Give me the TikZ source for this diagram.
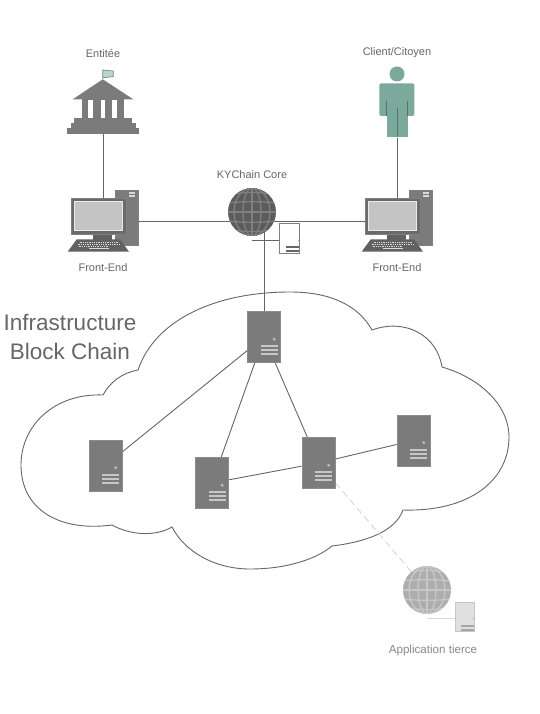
\documentclass[tikz,border=0pt]{standalone}
\usepackage{fontspec}
\setmainfont{Liberation Sans}
\usetikzlibrary{positioning}
\usetikzlibrary{backgrounds}

\definecolor{iconcol}{HTML}{7B7B7B}
\definecolor{edgecol}{HTML}{666666}
\definecolor{labelcol}{HTML}{666666}
\definecolor{tealcol}{HTML}{7BA99C}
\definecolor{paletxt}{HTML}{888888}

% dot and three bars of a server front
\newcommand{\srvmarks}[3]{
  \begin{scope}[shift={(path picture bounding box.center)},scale=#1]
    \fill[#2] (-3.5,8) rectangle (13.5,10);
    \fill[#2] (-3.5,12.1) rectangle (13.5,14.1);
    \fill[#2] (-3.5,16.2) rectangle (13.5,18.2);
    \fill[#3] (10.2,2.2) circle (1.7);
  \end{scope}
}

% meridians and parallels of a globe
\newcommand{\globelines}[1]{
  \begin{scope}[shift={(path picture bounding box.center)},draw=#1,line width=1.3pt]
    \draw (0,-24) -- (0,24);
    \draw (0,0) ellipse (9 and 24);
    \draw (0,0) ellipse (18 and 24);
    \draw (-24,0) -- (24,0);
    \foreach \yy in {-17,-9,9,17} {
      \draw (-24,\yy) .. controls (-8,\yy*1.2) and (8,\yy*1.2) .. (24,\yy);
    }
  \end{scope}
}

\tikzset{
  txtlabel/.style={text=labelcol,font=\fontsize{11}{13}\selectfont,inner sep=0pt},
  link/.style={draw=edgecol,line width=0.9pt},
  farlink/.style={draw=black!16,line width=0.9pt},
  srvbox/.style={rectangle,draw=black!45,fill=iconcol,line width=0.8pt,inner sep=0pt,
    minimum width=33pt,minimum height=51pt,
    path picture={\srvmarks{1}{black!22}{tealcol!70!white}}},
  globebox/.style={circle,fill=#1,inner sep=0pt,minimum size=48pt},
  computer/.pic={
    \node at (28.5,1.5) [rectangle,draw=black!50,fill=iconcol,line width=0.8pt,inner sep=0pt,
      minimum width=23.5pt,minimum height=55pt] (-tower) {};
    \fill[black!15] (30.5,-24) rectangle (36.5,-22);
    \fill[black!15] (30.5,-21) rectangle (36.5,-19);
    \fill[black!62] (-5.2,18) rectangle (13.2,23.5);
    \fill[black!62] (-21.8,23.3) -- (21.5,23.3) -- (30.5,35.7) -- (-30.8,35.7) -- cycle;
    \draw[black!15,line width=1pt,dash pattern=on 1pt off 0.8pt] (-19,26.5) -- (19,26.5);
    \draw[black!15,line width=1pt,dash pattern=on 1pt off 0.8pt] (-21,28.7) -- (21,28.7);
    \draw[black!15,line width=1pt,dash pattern=on 1pt off 0.8pt] (-20,30.9) -- (10,30.9);
    \fill[black!15] (-10,31.7) rectangle (10,33.2);
    \node at (0,0) [rectangle,draw=black!50,fill=black!58,line width=0.8pt,inner sep=0pt,
      minimum width=55pt,minimum height=36pt] (-mon) {};
    \draw[black!8,fill=black!23,line width=0.9pt] (-24.5,-15) rectangle (24.2,14);
  }
}

\begin{document}
\begin{tikzpicture}[x=1pt,y=-1pt]
  \useasboundingbox (0,0) rectangle (539,714);

  % top row
  \node at (103,53.5) [txtlabel] (entlabel) {Entitée};
  \node at (397,53) [txtlabel] (citlabel) {Client/Citoyen};
  \node at (252,174.5) [txtlabel] (corelabel) {KYChain Core};
  \node at (103,267.5) [txtlabel] (frontlabell) {Front-End};
  \node at (397,267.5) [txtlabel] (frontlabelr) {Front-End};

  % building
  \draw[tealcol!85!black,fill=tealcol!50!white,line width=0.7pt] (102.7,79) -- (102.7,70) -- (113.3,71) -- (113.3,76.7) -- (102.7,77.7);
  \fill[iconcol] (102.7,79.3) -- (133.3,99.3) -- (72.7,99.3) -- cycle;
  \fill[iconcol] (82.3,99) rectangle (124,118.5);
  \fill[white] (88.3,100.5) rectangle (93.3,118.3);
  \fill[white] (100.7,100.5) rectangle (105.3,118.3);
  \fill[white] (112.3,100.5) rectangle (117.3,118.3);
  \fill[iconcol] (74,118.3) rectangle (132.3,123.5);
  \fill[iconcol] (70.7,123.3) rectangle (135.7,128.5);
  \node at (103,131.3) [rectangle,fill=iconcol,inner sep=0pt,minimum width=71.4pt,minimum height=6pt] (bank) {};

  % citizen
  \fill[tealcol] (397,74) circle (7.5);
  \fill[tealcol,rounded corners=2pt] (379.3,116) -- (379.3,83.3) -- (414.3,83.3) -- (414.3,116) -- cycle;
  \node at (397.2,120) [rectangle,fill=tealcol,inner sep=0pt,minimum width=21pt,minimum height=35pt] (citizen) {};
  \draw[tealcol!70!black,line width=0.7pt] (386.7,101) -- (386.7,116);
  \draw[tealcol!70!black,line width=0.7pt] (407.7,101) -- (407.7,116);
  \draw[tealcol!70!black,line width=0.8pt] (397,108) -- (397,137);

  % computers
  \pic (cl) at (98.5,216) {computer};
  \pic (cr) at (392.5,216) {computer};

  % globe of the core and its small server
  \node at (252,212) [globebox=black!64,path picture={\globelines{black!50}}] (core) {};
  \node at (289.7,238) [rectangle,draw=black!50,fill=white,line width=1pt,inner sep=0pt,
    minimum width=19.5pt,minimum height=30pt,path picture={\srvmarks{0.6}{black!60}{black!60}}] (srvcore) {};

  % text of the cloud
  \node at (70,337) [text=labelcol,font=\fontsize{22.5}{29}\selectfont,align=center,inner sep=0pt] (cloudlabel) {Infrastructure\\Block Chain};

  % servers
  \node at (264,337) [srvbox] (srva) {};
  \node at (105.5,465.5) [srvbox] (srvb) {};
  \node at (212,483) [srvbox] (srvc) {};
  \node at (318.5,463) [srvbox] (srvd) {};
  \node at (413.5,440.5) [srvbox] (srve) {};

  % third party
  \node at (427,590) [globebox=black!32,path picture={\globelines{black!22}}] (appglobe) {};
  \node at (464.5,616.5) [rectangle,draw=black!22,fill=black!12,line width=0.8pt,inner sep=0pt,
    minimum width=19pt,minimum height=29pt,path picture={\srvmarks{0.6}{black!35}{black!35}}] (srvapp) {};
  \node at (433,650.5) [txtlabel,text=paletxt,font=\fontsize{11.6}{13}\selectfont] (applabel) {Application tierce};

  \coordinate (coreline) at (252,221);
  \coordinate (corestub) at (252,240.6);
  \coordinate (appstub) at (427,618);

  \begin{scope}[on background layer]
    \draw[edgecol,line width=0.9pt,fill=white]
      (138,370) .. controls (155,320) and (215,292) .. (290,292)
      .. controls (330,292) and (358,305) .. (372,330)
      .. controls (405,318) and (437,335) .. (442,367)
      .. controls (480,378) and (509,405) .. (509,437)
      .. controls (509,480) and (470,512) .. (403,510)
      .. controls (395,532) and (365,542) .. (332,546)
      .. controls (315,560) and (285,569) .. (250,569)
      .. controls (215,569) and (185,552) .. (172,527)
      .. controls (155,537) and (130,535) .. (112,525)
      .. controls (60,532) and (21,510) .. (21,465)
      .. controls (21,425) and (55,393) .. (103,395)
      .. controls (110,382) and (122,373) .. (138,370) -- cycle;

    \draw[link] (bank.south) -- (bank.south |- cl-mon.north);
    \draw[link] (citizen.south) -- (citizen.south |- cr-mon.north);
    \draw[link] (cl-tower.east |- coreline) -- (cr-mon.west |- coreline);
    \draw[link] (srva.north) -- (srva.north |- core.center);
    \draw[link] (srvcore.west |- corestub) -- (corestub);
    \draw[link] (srva) -- (srvb);
    \draw[link] (srva) -- (srvc);
    \draw[link] (srva) -- (srvd);
    \draw[link] (srvc) -- (srvd);
    \draw[link] (srvd) -- (srve);
    \draw[farlink,dashed,dash pattern=on 7pt off 4pt] (srvd) -- (appglobe);
    \draw[farlink] (srvapp.west |- appstub) -- (appstub);
  \end{scope}
\end{tikzpicture}
\end{document}
